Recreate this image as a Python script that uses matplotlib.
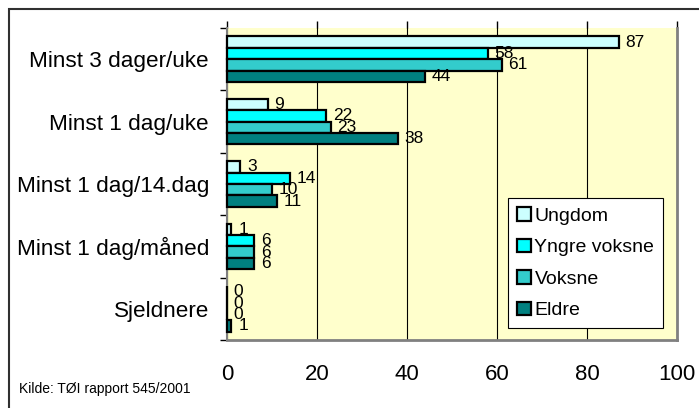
import matplotlib
matplotlib.use('Agg')
import matplotlib.pyplot as plt
import matplotlib.patches as patches
import numpy as np

plt.rcParams['font.family'] = ['Liberation Sans', 'DejaVu Sans']

categories = ['Minst 3 dager/uke', 'Minst 1 dag/uke', 'Minst 1 dag/14.dag',
              'Minst 1 dag/måned', 'Sjeldnere']
series = ['Ungdom', 'Yngre voksne', 'Voksne', 'Eldre']
ungdom = [87, 9, 3, 1, 0]
yngre_voksne = [58, 22, 14, 6, 0]
voksne = [61, 23, 10, 6, 0]
eldre = [44, 38, 11, 6, 1]
colors = ['#CCFFFF', '#00FFFF', '#33CCCC', '#008080']

fig = plt.figure(figsize=(6.99, 4.08), dpi=100)
ax = fig.add_axes([227 / 699, 1 - 340 / 408, 450 / 699, 312 / 408])
ax.set_facecolor('#FFFFCC')

y = np.arange(len(categories))
h = 0.183
for i, (name, vals) in enumerate(zip(series, [ungdom, yngre_voksne, voksne, eldre])):
    pos = y + (i - 1.5) * h
    ax.barh(pos, vals, height=h, color=colors[i], edgecolor='black',
            linewidth=1.6, label=name, zorder=3, clip_on=False)
    for p, v in zip(pos, vals):
        ax.text(v + 1.5, p, str(v), ha='left', va='center', fontsize=12.5, zorder=4)

ax.set_xlim(0, 100)
ax.set_ylim(len(categories) - 0.5, -0.5)
ax.set_xticks([0, 20, 40, 60, 80, 100])
ax.xaxis.grid(True, color='black', linewidth=0.8, zorder=1)
ax.set_axisbelow(True)
ax.tick_params(axis='x', which='both', top=True, bottom=False, labeltop=False,
               labelbottom=True, length=5, width=1, pad=12, labelsize=16)

ax.set_yticks(y)
ax.set_yticklabels(categories)
ax.set_yticks(np.arange(-0.5, len(categories)), minor=True)
ax.tick_params(axis='y', which='major', length=0, pad=13, labelsize=16.2)
ax.tick_params(axis='y', which='minor', length=5, width=1, left=True)

ax.spines['top'].set_visible(False)
for side in ['right', 'bottom', 'left']:
    ax.spines[side].set_color('#808080')
ax.spines['right'].set_linewidth(2)
ax.spines['bottom'].set_linewidth(2)
ax.spines['left'].set_linewidth(1.5)

leg = ax.legend(loc='lower right', bbox_to_anchor=(0.969, 0.038), fontsize=14,
                frameon=True, fancybox=False, framealpha=1, edgecolor='black',
                handlelength=0.7, handleheight=0.7, handletextpad=0.2,
                labelspacing=0.72, borderpad=0.45, borderaxespad=0)
leg.get_frame().set_linewidth(0.8)
for hnd in leg.legend_handles:
    hnd.set_linewidth(1.6)

fig.patches.append(patches.Rectangle((9 / 699, -0.1), 1, 1 - 9 / 408 + 0.1,
                                     transform=fig.transFigure, fill=False,
                                     edgecolor='#303030', linewidth=1.5))
fig.text(19 / 699, 1 - 393 / 408, 'Kilde: TØI rapport 545/2001', fontsize=10,
         ha='left', va='baseline')

plt.savefig('out.png', dpi=100)
